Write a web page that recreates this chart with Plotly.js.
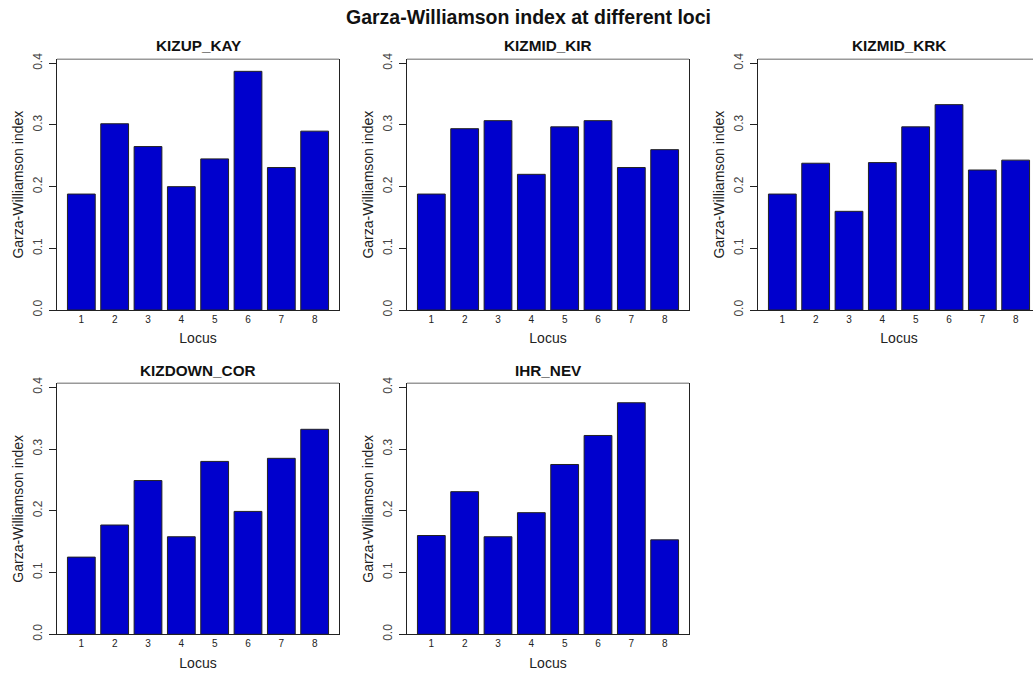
<!DOCTYPE html>
<html>
<head>
<meta charset="utf-8">
<script src="https://cdn.plot.ly/plotly-3.0.1.min.js"></script>
<style>
  html, body { margin: 0; padding: 0; background: #fff; overflow: hidden; }
  #chart { width: 1050px; height: 673px; }
</style>
</head>
<body>
<div id="chart"></div>
<script>
// Garza-Williamson index per locus for each sampling site
const loci = [1, 2, 3, 4, 5, 6, 7, 8];
const siteNames = ["KIZUP_KAY", "KIZMID_KIR", "KIZMID_KRK", "KIZDOWN_COR", "IHR_NEV"];
const kizupKay   = [0.188, 0.302, 0.265, 0.200, 0.245, 0.387, 0.231, 0.290];
const kizmidKir  = [0.188, 0.294, 0.307, 0.220, 0.297, 0.307, 0.231, 0.260];
const kizmidKrk  = [0.188, 0.238, 0.160, 0.239, 0.297, 0.333, 0.227, 0.243];
const kizdownCor = [0.125, 0.177, 0.249, 0.158, 0.280, 0.199, 0.285, 0.332];
const ihrNev     = [0.160, 0.231, 0.158, 0.197, 0.275, 0.322, 0.375, 0.153];
const yTicks = [0, 0.1, 0.2, 0.3, 0.4];
const mainTitle = "Garza-Williamson index at different loci";
const yLabel = "Garza-Williamson index";
const xLabel = "Locus";

const siteValues = [kizupKay, kizmidKir, kizmidKrk, kizdownCor, ihrNev];

// page geometry in pixels (the figure is slightly wider than the window)
const W = 1050, H = 673;
const colsPx = [[57, 339], [407, 689], [758, 1040]];
const rowsPx = [[59.3, 310], [383.3, 634.3]];
const cells = [[0, 0], [0, 1], [0, 2], [1, 0], [1, 1]];

const FONT = "Liberation Sans, Arial, sans-serif";
const data = [];
const layout = {
  width: W, height: H,
  margin: { l: 0, r: 0, t: 0, b: 0 },
  paper_bgcolor: "#ffffff",
  plot_bgcolor: "#ffffff",
  showlegend: false,
  bargap: 1 - 1 / 1.2,
  font: { family: FONT, color: "#222" },
  title: {
    text: "<b>" + mainTitle + "</b>",
    font: { family: FONT, size: 19.5, color: "#111" },
    x: 528.5 / W, xanchor: "center",
    y: 1 - 17 / H, yanchor: "middle",
    xref: "paper", yref: "paper"
  },
  annotations: [],
  shapes: []
};

cells.forEach(([r, c], i) => {
  const n = i === 0 ? "" : String(i + 1);
  const [x0, x1] = colsPx[c];
  const [y0, y1] = rowsPx[r];
  const xa = "xaxis" + n, ya = "yaxis" + n;

  data.push({
    type: "bar",
    x: loci,
    y: siteValues[i],
    xaxis: "x" + n, yaxis: "y" + n,
    marker: { color: "#0000CD", line: { color: "#222", width: 1 } },
    hoverinfo: "x+y"
  });

  layout[xa] = {
    domain: [x0 / W, x1 / W],
    anchor: "y" + n,
    range: [0.27, 8.73],
    tickmode: "array",
    tickvals: loci,
    ticktext: loci.map(String),
    ticks: "",
    showgrid: false, zeroline: false,
    showline: true, linecolor: "#222", linewidth: 1,
    tickfont: { family: FONT, size: 10, color: "#222" },
    ticklabelstandoff: 0,
    title: { text: xLabel, font: { family: FONT, size: 14, color: "#222" }, standoff: 9 }
  };
  layout[ya] = {
    domain: [1 - y1 / H, 1 - y0 / H],
    anchor: "x" + n,
    range: [0, 0.4065],
    tickmode: "array",
    tickvals: yTicks,
    ticktext: yTicks.map(v => v.toFixed(1)),
    ticks: "outside", ticklen: 7, tickcolor: "#222", tickwidth: 1,
    tickangle: -90,
    showgrid: false, zeroline: false,
    showline: true, mirror: true, linecolor: "#222", linewidth: 1,
    tickfont: { family: FONT, size: 12, color: "#444" },
    ticklabelstandoff: 2,
    title: { text: yLabel, font: { family: FONT, size: 14, color: "#222" }, standoff: 4 }
  };

  // top edge of the plot box
  layout.shapes.push({
    type: "line", xref: "x" + n + " domain", yref: "y" + n + " domain",
    x0: 0, x1: 1, y0: 1, y1: 1,
    line: { color: "#999", width: 1.5 }
  });

  // panel title
  layout.annotations.push({
    text: "<b>" + siteNames[i] + "</b>",
    xref: "paper", yref: "paper",
    x: ((x0 + x1) / 2) / W, y: 1 - (r === 0 ? 46 : 370) / H,
    xanchor: "center", yanchor: "middle",
    showarrow: false,
    font: { family: FONT, size: 15.3, color: "#111" }
  });
});

Plotly.newPlot("chart", data, layout, { displayModeBar: false, staticPlot: true });
</script>
</body>
</html>
